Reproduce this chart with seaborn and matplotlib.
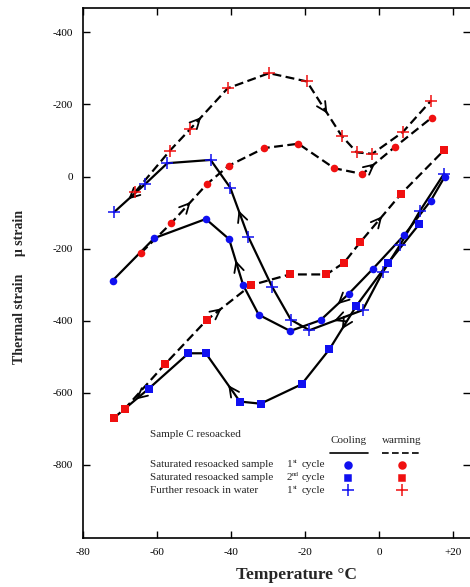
import numpy as np
import matplotlib
matplotlib.use("Agg")
import matplotlib.pyplot as plt
import seaborn as sns

# 1st cycle, saturated resoaked sample
cool1_t = [17.8, 14.0, 6.8, -1.6, -8.2, -15.8, -24.0, -32.5, -36.7, -40.5, -46.8, -60.7, -72.0]
cool1_s = [0, -67, -163, -256, -326, -399, -429, -384, -302, -174, -118, -171, -289]
warm1_t = [-64.3, -56.2, -46.4, -40.6, -31.0, -21.8, -12.1, -4.5, 4.3, 14.2]
warm1_s = [-212, -130, -20, 30, 79, 91, 23, 7, 82, 163]

# 2nd cycle, saturated resoaked sample
cool2_t = [10.9, 2.4, -6.1, -13.4, -20.9, -32.0, -37.6, -46.8, -51.5, -62.2]
cool2_s = [-132, -241, -359, -480, -577, -631, -625, -491, -491, -589]
warm2_t = [-71.7, -68.7, -57.8, -46.6, -34.6, -24.1, -14.2, -9.4, -5.1, 5.9, 17.6]
warm2_s = [-671, -645, -521, -399, -302, -272, -272, -239, -183, -49, 73]

# further resoak in water, 1st cycle
cool3_t = [17.6, 11.1, 5.7, 1.0, -4.4, -18.8, -23.8, -28.9, -35.3, -40.2, -45.5, -57.2, -63.2, -71.6]
cool3_s = [8, -95, -190, -266, -371, -427, -398, -306, -168, -31, 46, 37, -21, -99]
warm3_t = [-65.9, -56.5, -51.0, -40.9, -29.7, -19.5, -10.1, -6.0, -1.8, 6.4, 14.1]
warm3_s = [-43, 72, 132, 245, 287, 264, 113, 67, 63, 123, 211]

xticks = [-80, -60, -40, -20, 0, 20]
xtick_labels = ['-80', '-60', '-40', '-20', '0', '+20']
yticks = [400, 200, 0, -200, -400, -600, -800]
ytick_labels = ['-400', '-200', '0', '-200', '-400', '-600', '-800']

BLUE = '#1010f0'
RED = '#f01010'
DASH = (0, (4, 2))

sns.set_style('ticks')
plt.rcParams['font.family'] = ['Liberation Serif', 'DejaVu Serif']


def arrow_on(ax, xs, ys, i, frac=0.5):
    # open arrow head sitting on segment i of a curve
    x0, y0, x1, y1 = xs[i], ys[i], xs[i + 1], ys[i + 1]
    a, b = frac - 0.04, frac + 0.04
    ax.annotate('', xy=(x0 + (x1 - x0) * b, y0 + (y1 - y0) * b),
                xytext=(x0 + (x1 - x0) * a, y0 + (y1 - y0) * a),
                arrowprops=dict(arrowstyle='->,head_length=0.7,head_width=0.35',
                                color='k', lw=1.3, shrinkA=0, shrinkB=0))


fig = plt.figure(figsize=(4.70, 5.87), dpi=100)
ax = fig.add_axes([83 / 470, 1 - 538 / 587, 387 / 470, 530 / 587])

# curves
sns.lineplot(x=cool1_t, y=cool1_s, sort=False, ax=ax, color='k', lw=1.6)
sns.lineplot(x=warm1_t, y=warm1_s, sort=False, ax=ax, color='k', lw=1.6, linestyle=DASH)
c2_t = np.r_[cool2_t, warm2_t[1]]
c2_s = np.r_[cool2_s, warm2_s[1]]
sns.lineplot(x=c2_t, y=c2_s, sort=False, ax=ax, color='k', lw=1.6)
sns.lineplot(x=warm2_t, y=warm2_s, sort=False, ax=ax, color='k', lw=1.6, linestyle=DASH)
sns.lineplot(x=cool3_t, y=cool3_s, sort=False, ax=ax, color='k', lw=1.6)
sns.lineplot(x=warm3_t, y=warm3_s, sort=False, ax=ax, color='k', lw=1.6, linestyle=DASH)

# arrows showing direction
arrow_on(ax, cool1_t, cool1_s, 4, 0.35)
arrow_on(ax, cool1_t, cool1_s, 8, 0.5)
arrow_on(ax, warm1_t, warm1_s, 1, 0.5)
arrow_on(ax, warm1_t, warm1_s, 7, 0.35)
arrow_on(ax, c2_t, c2_s, 2, 0.5)
arrow_on(ax, c2_t, c2_s, 6, 0.3)
arrow_on(ax, c2_t, c2_s, 9, 0.5)
arrow_on(ax, warm2_t, warm2_s, 3, 0.3)
arrow_on(ax, warm2_t, warm2_s, 8, 0.5)
arrow_on(ax, cool3_t, cool3_s, 4, 0.5)
arrow_on(ax, cool3_t, cool3_s, 8, 0.5)
arrow_on(ax, cool3_t, cool3_s, 12, 0.5)
arrow_on(ax, warm3_t, warm3_s, 2, 0.25)
arrow_on(ax, warm3_t, warm3_s, 5, 0.55)

# markers
sns.scatterplot(x=cool1_t, y=cool1_s, ax=ax, color=BLUE, marker='o', s=30, linewidth=0, zorder=5)
sns.scatterplot(x=warm1_t, y=warm1_s, ax=ax, color=RED, marker='o', s=30, linewidth=0, zorder=5)
sns.scatterplot(x=cool2_t, y=cool2_s, ax=ax, color=BLUE, marker='s', s=26, linewidth=0, zorder=5)
sns.scatterplot(x=warm2_t, y=warm2_s, ax=ax, color=RED, marker='s', s=26, linewidth=0, zorder=5)
ax.plot(cool3_t, cool3_s, ls='none', marker='+', ms=8, mew=1.1, color=BLUE, zorder=5)
ax.plot(warm3_t, warm3_s, ls='none', marker='+', ms=8, mew=1.1, color=RED, zorder=5)

ax.set_xlim(-80, 24.6)
ax.set_ylim(-1004, 468)
ax.set_xticks(xticks)
ax.set_xticklabels(xtick_labels)
ax.set_yticks(yticks)
ax.set_yticklabels(ytick_labels)
ax.tick_params(direction='in', top=True, right=True, length=5, width=1,
               labelsize=8, pad=7, colors='k')
for sp in ax.spines.values():
    sp.set_linewidth(1.2)
    sp.set_color('k')
ax.spines['right'].set_visible(False)

# legend block
tr = ax.transAxes
ax.text(0.173, 0.196, 'Sample C resoacked', transform=tr, fontsize=8, va='center')
rows = [('Saturated resoacked sample', '1', 'st', 'o', 0.138),
        ('Saturated resoacked sample', '2', 'nd', 's', 0.114),
        ('Further resoack in water', '1', 'st', '+', 0.090)]
ax.text(0.685, 0.184, 'Cooling', transform=tr, fontsize=8, ha='center', va='center')
ax.text(0.823, 0.184, 'warming', transform=tr, fontsize=8, ha='center', va='center')
ax.plot([0.638, 0.736], [0.161, 0.161], transform=tr, color='k', lw=1.2)
ax.plot([0.773, 0.873], [0.161, 0.161], transform=tr, color='k', lw=1.2, ls=(0, (4, 2)))
for name, num, sup, mk, yy in rows:
    ax.text(0.173, yy, name, transform=tr, fontsize=8, va='center')
    ax.text(0.526, yy, num, transform=tr, fontsize=8, va='center')
    ax.text(0.541, yy + 0.006, sup, transform=tr, fontsize=5, va='center')
    ax.text(0.566, yy, 'cycle', transform=tr, fontsize=8, va='center')
    ms = 9 if mk == '+' else 5
    ax.plot([0.684], [yy], transform=tr, marker=mk, ms=ms, mew=1.1, color=BLUE, ls='none')
    ax.plot([0.823], [yy], transform=tr, marker=mk, ms=ms, mew=1.1, color=RED, ls='none')

fig.text(20 / 470, 1 - 287 / 587, 'Thermal strain     \u03bc strain', rotation=90,
         fontsize=10, fontweight='bold', ha='center', va='center')
fig.text(296 / 470, 1 - 575 / 587, 'Temperature \u00b0C', fontsize=12.5,
         fontweight='bold', ha='center', va='center')

fig.savefig('out.png', dpi=100)
